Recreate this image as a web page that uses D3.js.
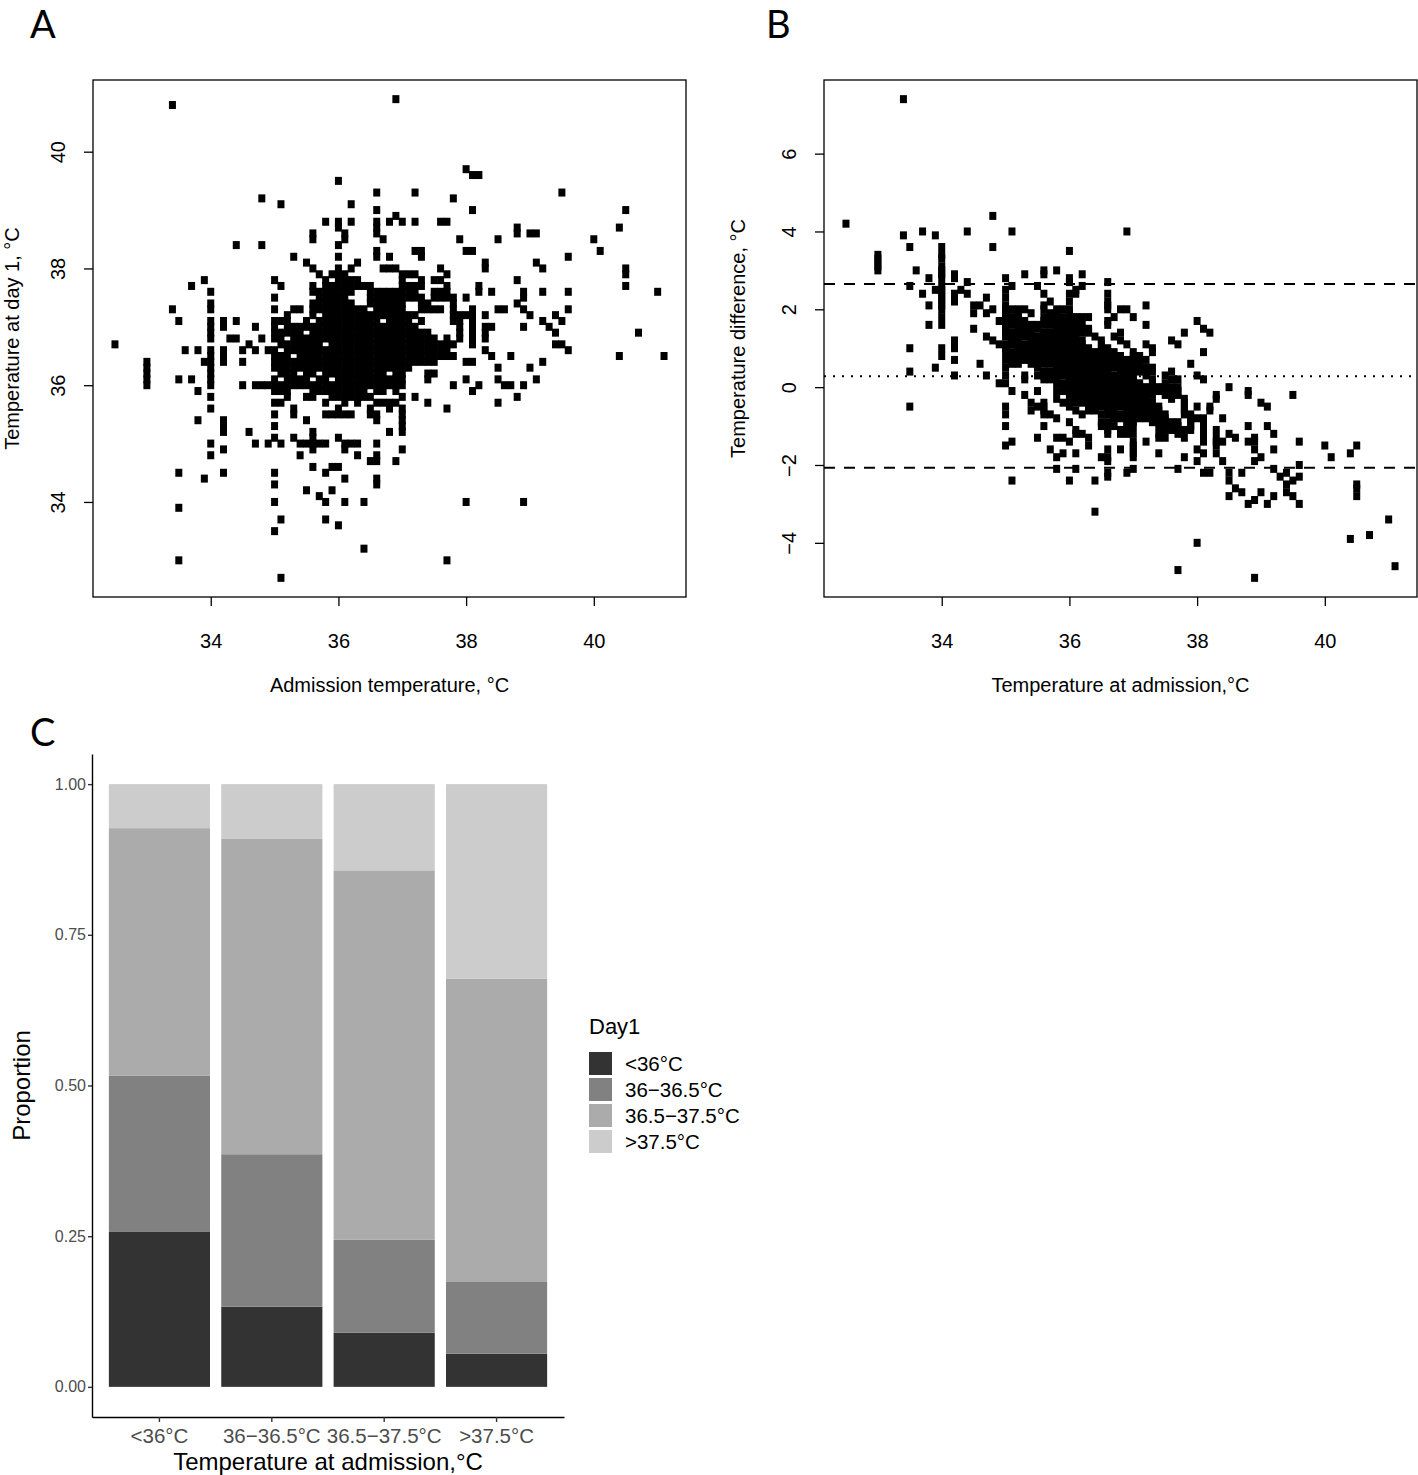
<!DOCTYPE html>
<html>
<head>
<meta charset="utf-8">
<script src="https://cdnjs.cloudflare.com/ajax/libs/d3/7.8.5/d3.min.js"></script>
<style>
  body { margin: 0; background: #fff; }
  svg { display: block; }
</style>
</head>
<body>
<svg id="chart" width="1418" height="1475"></svg>
<script>
// Day-1 temperatures recorded for each admission temperature (°C)
const day1ByAdmission = [
  [32.5, [36.7]],
  [33.0, [36.4, 36.3, 36.2, 36.1, 36.0]],
  [33.4, [40.8, 37.3]],
  [33.5, [37.1, 36.1, 34.5, 33.9, 33.0]],
  [33.6, [36.6]],
  [33.7, [37.7, 36.1]],
  [33.8, [36.6, 35.9, 35.4]],
  [33.9, [37.8, 36.4, 34.4]],
  [34.0, [37.6, 37.4, 37.3, 37.1, 37.0, 36.9, 36.8, 36.6, 36.5, 36.4, 36.3, 36.2, 36.1, 36.0, 35.8, 35.6, 35.0, 34.8]],
  [34.2, [37.1, 37.0, 36.6, 36.5, 36.4, 35.4, 35.3, 35.2, 34.9, 34.5]],
  [34.3, [36.8]],
  [34.4, [38.4, 37.1, 36.8]],
  [34.5, [36.6, 36.4, 36.0]],
  [34.6, [36.7, 35.2]],
  [34.7, [37.0, 36.6, 36.0, 35.0]],
  [34.8, [39.2, 38.4, 36.8, 36.0]],
  [34.9, [36.6, 36.0, 35.0]],
  [35.0, [37.8, 37.5, 37.3, 37.1, 37.0, 36.9, 36.8, 36.6, 36.5, 36.4, 36.3, 36.1, 36.0, 35.9, 35.7, 35.5, 35.3, 35.1, 34.5, 34.3, 34.0, 33.5]],
  [35.1, [39.1, 37.7, 37.1, 36.9, 36.8, 36.7, 36.5, 36.4, 36.3, 36.2, 36.0, 35.9, 35.7, 35.0, 33.7, 32.7]],
  [35.2, [37.2, 37.1, 37.0, 36.9, 36.7, 36.6, 36.5, 36.4, 36.3, 36.2, 36.1, 36.0, 35.9, 35.8]],
  [35.3, [38.2, 37.3, 37.0, 36.9, 36.8, 36.7, 36.6, 36.4, 36.3, 36.2, 36.1, 36.0, 35.6, 35.5, 35.1]],
  [35.4, [37.3, 37.0, 36.9, 36.8, 36.7, 36.6, 36.5, 36.4, 36.3, 36.1, 36.0, 35.0, 34.8]],
  [35.5, [38.1, 37.1, 37.0, 36.8, 36.7, 36.6, 36.5, 36.4, 36.3, 36.2, 36.1, 36.0, 35.8, 35.4, 35.0, 34.2]],
  [35.6, [38.6, 38.5, 38.0, 37.7, 37.6, 37.4, 37.3, 37.2, 37.0, 36.9, 36.8, 36.7, 36.6, 36.5, 36.4, 36.3, 36.2, 36.0, 35.9, 35.8, 35.2, 35.1, 35.0, 34.9, 34.6]],
  [35.7, [37.9, 37.6, 37.5, 37.4, 37.3, 37.1, 37.0, 36.9, 36.8, 36.7, 36.6, 36.5, 36.4, 36.3, 36.1, 36.0, 35.9, 35.0, 34.1]],
  [35.8, [38.8, 37.8, 37.7, 37.6, 37.5, 37.4, 37.3, 37.2, 37.1, 37.0, 36.9, 36.8, 36.6, 36.5, 36.4, 36.3, 36.2, 36.1, 36.0, 35.9, 35.7, 35.5, 35.0, 34.5, 34.0, 33.7]],
  [35.9, [37.9, 37.7, 37.6, 37.5, 37.4, 37.3, 37.2, 37.1, 37.0, 36.9, 36.8, 36.7, 36.6, 36.5, 36.4, 36.3, 36.2, 36.0, 35.9, 35.8, 35.5, 34.6, 34.2]],
  [36.0, [39.5, 38.8, 38.7, 38.4, 38.2, 38.0, 37.9, 37.8, 37.7, 37.6, 37.5, 37.4, 37.3, 37.2, 37.1, 37.0, 36.9, 36.8, 36.7, 36.6, 36.5, 36.4, 36.3, 36.2, 36.1, 36.0, 35.9, 35.8, 35.6, 35.5, 35.1, 34.6, 33.6]],
  [36.1, [38.6, 38.5, 37.9, 37.8, 37.7, 37.6, 37.5, 37.4, 37.3, 37.2, 37.1, 37.0, 36.9, 36.8, 36.7, 36.6, 36.5, 36.4, 36.3, 36.2, 36.1, 36.0, 35.9, 35.8, 35.7, 35.5, 35.0, 34.9, 34.4, 34.0]],
  [36.2, [39.1, 38.8, 38.0, 37.8, 37.7, 37.6, 37.4, 37.3, 37.2, 37.1, 37.0, 36.9, 36.8, 36.7, 36.6, 36.5, 36.4, 36.3, 36.2, 36.1, 36.0, 35.9, 35.8, 35.5, 35.0]],
  [36.3, [38.1, 37.8, 37.7, 37.3, 37.2, 37.1, 37.0, 36.9, 36.8, 36.7, 36.6, 36.5, 36.4, 36.3, 36.2, 36.1, 36.0, 35.9, 35.8, 35.7, 35.0, 34.8]],
  [36.4, [37.7, 37.3, 37.2, 37.1, 37.0, 36.9, 36.8, 36.7, 36.6, 36.5, 36.4, 36.3, 36.2, 36.1, 36.0, 35.9, 35.8, 34.0, 33.2]],
  [36.5, [37.7, 37.6, 37.5, 37.4, 37.2, 37.1, 37.0, 36.9, 36.8, 36.7, 36.6, 36.5, 36.4, 36.3, 36.2, 36.1, 36.0, 35.8, 35.6, 35.5, 34.7]],
  [36.6, [39.3, 39.0, 38.8, 38.7, 38.6, 38.3, 38.2, 37.6, 37.5, 37.4, 37.3, 37.2, 37.1, 37.0, 36.9, 36.8, 36.7, 36.6, 36.5, 36.4, 36.3, 36.2, 36.1, 36.0, 35.9, 35.7, 35.5, 35.4, 35.0, 34.8, 34.7, 34.4, 34.3]],
  [36.7, [38.5, 38.0, 37.6, 37.5, 37.4, 37.3, 37.2, 37.0, 36.9, 36.8, 36.7, 36.6, 36.5, 36.4, 36.3, 36.2, 36.1, 36.0, 35.9, 35.7]],
  [36.8, [38.8, 38.2, 38.0, 37.6, 37.5, 37.4, 37.3, 37.2, 37.1, 37.0, 36.9, 36.8, 36.7, 36.6, 36.5, 36.4, 36.3, 36.1, 36.0, 35.7, 35.6, 35.2]],
  [36.9, [40.9, 38.9, 38.0, 37.6, 37.5, 37.4, 37.3, 37.2, 37.1, 37.0, 36.9, 36.8, 36.7, 36.6, 36.5, 36.4, 36.3, 36.2, 36.1, 36.0, 35.9, 35.7, 34.7]],
  [37.0, [38.8, 37.9, 37.8, 37.7, 37.6, 37.5, 37.4, 37.3, 37.2, 37.1, 37.0, 36.9, 36.8, 36.7, 36.6, 36.5, 36.4, 36.3, 36.2, 36.1, 36.0, 35.8, 35.6, 35.5, 35.4, 35.3, 35.2, 34.9]],
  [37.1, [37.9, 37.7, 37.6, 37.5, 37.2, 37.1, 37.0, 36.9, 36.8, 36.7, 36.6, 36.5, 36.4, 36.3]],
  [37.2, [39.3, 38.8, 38.3, 37.9, 37.7, 37.6, 37.5, 37.2, 37.0, 36.9, 36.8, 36.7, 36.6, 36.5, 36.4, 35.8]],
  [37.3, [38.3, 38.2, 37.8, 37.7, 37.5, 37.4, 37.3, 37.1, 36.9, 36.8, 36.7, 36.6, 36.5, 36.4]],
  [37.4, [37.4, 37.3, 36.9, 36.8, 36.7, 36.6, 36.5, 36.4, 36.2, 36.1, 35.7]],
  [37.5, [37.8, 37.6, 37.5, 37.3, 36.8, 36.7, 36.6, 36.5, 36.4, 36.2]],
  [37.6, [38.8, 38.0, 37.8, 37.6, 37.5, 37.3, 36.7, 36.6, 36.5]],
  [37.7, [38.8, 37.9, 37.7, 37.6, 37.5, 36.8, 36.7, 36.6, 36.5, 35.6, 33.0]],
  [37.8, [39.2, 37.5, 37.4, 37.3, 37.2, 37.1, 36.7, 36.5, 36.0]],
  [37.9, [38.5, 37.2, 37.1, 37.0, 36.9, 36.8]],
  [38.0, [39.7, 38.3, 37.5, 37.2, 36.4, 36.1, 34.0]],
  [38.1, [39.6, 39.0, 38.3, 37.3, 37.2, 37.1, 37.0, 36.9, 36.8, 36.7, 36.4, 35.9]],
  [38.2, [39.6, 37.7, 37.6, 36.0]],
  [38.3, [38.1, 38.0, 37.2, 37.0, 36.9, 36.8, 36.6]],
  [38.4, [37.6, 37.0, 36.5]],
  [38.5, [38.5, 37.3, 36.3, 36.1, 35.7]],
  [38.6, [37.3, 36.0]],
  [38.7, [36.5, 36.0]],
  [38.8, [38.7, 38.6, 37.8, 37.4, 35.8]],
  [38.9, [37.6, 37.5, 37.3, 37.0, 36.0, 34.0]],
  [39.0, [38.6, 37.2, 36.3]],
  [39.1, [38.6, 38.1, 36.1]],
  [39.2, [38.0, 37.6, 37.1, 36.4]],
  [39.3, [37.0]],
  [39.4, [37.2, 36.9, 36.7]],
  [39.5, [39.3, 37.1, 36.7]],
  [39.6, [38.2, 37.6, 37.3, 36.6]],
  [40.0, [38.5]],
  [40.1, [38.3]],
  [40.4, [38.7, 36.5]],
  [40.5, [39.0, 38.0, 37.9, 37.7]],
  [40.7, [36.9]],
  [41.0, [37.6]],
  [41.1, [36.5]]
];

// Bland-Altman lines (mean difference and limits of agreement)
const meanDifference = 0.28;
const upperLimit = 2.65;
const lowerLimit = -2.07;

// Panel C: share of each day-1 category within admission groups
const admissionGroups = ["<36°C", "36−36.5°C", "36.5−37.5°C", ">37.5°C"];
const day1Groups = ["<36°C", "36−36.5°C", "36.5−37.5°C", ">37.5°C"];
const shareBelow36 = [0.257, 0.133, 0.090, 0.055];
const share36to365 = [0.259, 0.253, 0.154, 0.119];
const share365to375 = [0.411, 0.523, 0.613, 0.503];
const shareAbove375 = [0.073, 0.091, 0.143, 0.323];
const greyFills = ["#333333", "#818181", "#ababab", "#cccccc"];

const svg = d3.select("#chart");
const rFont = "'Liberation Sans', Arial, Helvetica, sans-serif";

// flatten the columns into points
let points = [];
day1ByAdmission.forEach(([adm, temps]) => {
  temps.forEach((t) => {
    points.push({ adm: adm, day1: t, diff: Math.round((t - adm) * 10) / 10 });
  });
});

// R style axis range: data range stretched by 4% on each side
const rRange = (values) => {
  let ext = d3.extent(values);
  let pad = (ext[1] - ext[0]) * 0.04;
  return [ext[0] - pad, ext[1] + pad];
};

// Panel letters
const letter = (txt, x, y) => {
  svg.append("text").text(txt)
    .attr("x", x).attr("y", y)
    .attr("font-family", "Lato, 'Open Sans', sans-serif")
    .attr("font-size", 38)
    .attr("fill", "#000");
};
letter("A", 30, 38);
letter("B", 766, 38);
letter("C", 30, 746);

// Draw one base-R like scatter panel
const drawScatter = (box, yKey, yTicks, xTitle, yTitle, yTitleX) => {
  let g = svg.append("g");
  let x = d3.scaleLinear()
    .domain(rRange(points.map((d) => d.adm)))
    .range([box.left, box.right]);
  let y = d3.scaleLinear()
    .domain(rRange(points.map((d) => d[yKey])))
    .range([box.bottom, box.top]);

  // x axis
  let xAxis = g.append("g")
    .attr("transform", "translate(0," + box.bottom + ")")
    .call(d3.axisBottom(x).tickValues([34, 36, 38, 40]).tickSize(9).tickSizeOuter(0).tickPadding(28).tickFormat(d3.format("d")));
  xAxis.select(".domain").remove();
  xAxis.selectAll("line").attr("stroke", "#000").attr("stroke-width", 1.3);
  xAxis.selectAll("text")
    .attr("font-family", rFont).attr("font-size", 20).attr("fill", "#000");

  // y axis with labels parallel to the axis
  let yAxis = g.append("g")
    .attr("transform", "translate(" + box.left + ",0)")
    .call(d3.axisLeft(y).tickValues(yTicks).tickSize(9).tickSizeOuter(0).tickFormat(d3.format("d")));
  yAxis.select(".domain").remove();
  yAxis.selectAll("line").attr("stroke", "#000").attr("stroke-width", 1.3);
  yAxis.selectAll("text")
    .attr("x", 0).attr("y", -28).attr("dy", 0)
    .attr("transform", "rotate(-90)")
    .attr("text-anchor", "middle")
    .attr("font-family", rFont).attr("font-size", 20).attr("fill", "#000");

  // points, filled squares
  g.append("g")
    .selectAll("rect")
    .data(points)
    .enter()
    .append("rect")
    .attr("x", (d) => x(d.adm) - 3.5)
    .attr("y", (d) => y(d[yKey]) - 4)
    .attr("width", 7)
    .attr("height", 8)
    .attr("fill", "#000");

  // frame
  g.append("rect")
    .attr("x", box.left).attr("y", box.top)
    .attr("width", box.right - box.left).attr("height", box.bottom - box.top)
    .attr("fill", "none").attr("stroke", "#000").attr("stroke-width", 1.3);

  // titles
  g.append("text").text(xTitle)
    .attr("x", (box.left + box.right) / 2).attr("y", 692)
    .attr("text-anchor", "middle")
    .attr("font-family", rFont).attr("font-size", 20).attr("fill", "#000");
  g.append("text").text(yTitle)
    .attr("transform", "translate(" + yTitleX + "," + (box.top + box.bottom) / 2 + ") rotate(-90)")
    .attr("text-anchor", "middle")
    .attr("font-family", rFont).attr("font-size", 20).attr("fill", "#000");

  return { x: x, y: y, g: g };
};

const boxA = { left: 93, right: 686, top: 80, bottom: 597 };
const boxB = { left: 824, right: 1417, top: 80, bottom: 597 };

drawScatter(boxA, "day1", [34, 36, 38, 40], "Admission temperature, °C", "Temperature at day 1, °C", 19);
let panelB = drawScatter(boxB, "diff", [-4, -2, 0, 2, 4, 6], "Temperature at admission,°C", "Temperature difference, °C", 745);

// reference lines in B
[
  { v: upperLimit, dash: "11,9" },
  { v: meanDifference, dash: "2,7" },
  { v: lowerLimit, dash: "11,9" }
].forEach((l) => {
  panelB.g.append("line")
    .attr("x1", boxB.left).attr("x2", boxB.right)
    .attr("y1", panelB.y(l.v)).attr("y2", panelB.y(l.v))
    .attr("stroke", "#000").attr("stroke-width", 2)
    .attr("stroke-dasharray", l.dash);
});

// Panel C: stacked proportions
let rows = admissionGroups.map((grp, i) => {
  let r = { group: grp };
  r[day1Groups[0]] = shareBelow36[i];
  r[day1Groups[1]] = share36to365[i];
  r[day1Groups[2]] = share365to375[i];
  r[day1Groups[3]] = shareAbove375[i];
  return r;
});
let stacked = d3.stack().keys(day1Groups)(rows);

const boxC = { left: 92, right: 564, top: 754, bottom: 1417 };
let xC = d3.scaleBand().domain(admissionGroups).range([boxC.left, boxC.right])
  .paddingInner(0.1).paddingOuter(0.15);
let yC = d3.scaleLinear().domain([-0.05, 1.05]).range([boxC.bottom, boxC.top]);
let fillC = d3.scaleOrdinal().domain(day1Groups).range(greyFills);

let gC = svg.append("g");
gC.selectAll("g.layer")
  .data(stacked)
  .enter()
  .append("g")
  .attr("class", "layer")
  .attr("fill", (d) => fillC(d.key))
  .selectAll("rect")
  .data((d) => d)
  .enter()
  .append("rect")
  .attr("x", (d) => xC(d.data.group))
  .attr("width", xC.bandwidth())
  .attr("y", (d) => yC(d[1]))
  .attr("height", (d) => yC(d[0]) - yC(d[1]));

let yAxisC = gC.append("g")
  .attr("transform", "translate(" + boxC.left + ",0)")
  .call(d3.axisLeft(yC).tickValues([0, 0.25, 0.5, 0.75, 1]).tickFormat(d3.format(".2f")).tickSize(4).tickSizeOuter(0).tickPadding(2));
let xAxisC = gC.append("g")
  .attr("transform", "translate(0," + boxC.bottom + ")")
  .call(d3.axisBottom(xC).tickSize(5).tickSizeOuter(0).tickPadding(6));
[yAxisC, xAxisC].forEach((ax) => {
  ax.select(".domain").attr("stroke", "#000").attr("stroke-width", 1.4);
  ax.selectAll(".tick line").attr("stroke", "#333").attr("stroke-width", 1.4);
  ax.selectAll("text")
    .attr("font-family", rFont).attr("fill", "#4d4d4d");
});
yAxisC.selectAll("text").attr("font-size", 16);
xAxisC.selectAll("text").attr("font-size", 20.5);

gC.append("text").text("Temperature at admission,°C")
  .attr("x", (boxC.left + boxC.right) / 2).attr("y", 1470)
  .attr("text-anchor", "middle")
  .attr("font-family", rFont).attr("font-size", 24).attr("fill", "#000");
gC.append("text").text("Proportion")
  .attr("transform", "translate(30," + (boxC.top + boxC.bottom) / 2 + ") rotate(-90)")
  .attr("text-anchor", "middle")
  .attr("font-family", rFont).attr("font-size", 24).attr("fill", "#000");

// legend
let legend = gC.append("g").attr("transform", "translate(589,1052)");
legend.append("text").text("Day1")
  .attr("x", 0).attr("y", -18)
  .attr("font-family", rFont).attr("font-size", 22).attr("fill", "#000");
day1Groups.forEach((grp, i) => {
  legend.append("rect")
    .attr("x", 0).attr("y", i * 26)
    .attr("width", 23).attr("height", 23)
    .attr("fill", fillC(grp));
  legend.append("text").text(grp)
    .attr("x", 36).attr("y", i * 26 + 12)
    .attr("dy", "0.35em")
    .attr("font-family", rFont).attr("font-size", 20.5).attr("fill", "#000");
});
</script>
</body>
</html>
